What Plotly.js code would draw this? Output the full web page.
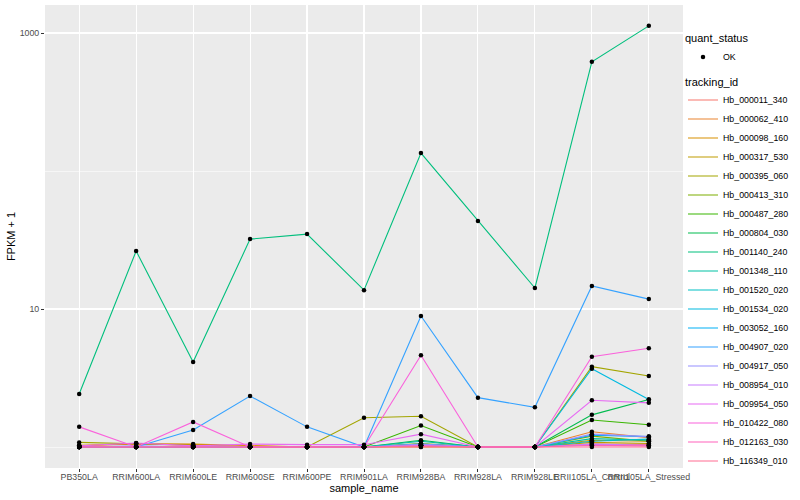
<!DOCTYPE html>
<html>
<head>
<meta charset="utf-8">
<script src="https://cdn.plot.ly/plotly-3.0.1.min.js"></script>
<style>
html,body{margin:0;padding:0;background:#fff;}
#chart{width:800px;height:500px;}
</style>
</head>
<body>
<div id="chart"></div>
<script>
// ---- data ----
const categories = ["PB350LA","RRIM600LA","RRIM600LE","RRIM600SE","RRIM600PE","RRIM901LA","RRIM928BA","RRIM928LA","RRIM928LE","RRII105LA_Control","RRII105LA_Stressed"];
const trackingIds = ["Hb_000011_340","Hb_000062_410","Hb_000098_160","Hb_000317_530","Hb_000395_060","Hb_000413_310","Hb_000487_280","Hb_000804_030","Hb_001140_240","Hb_001348_110","Hb_001520_020","Hb_001534_020","Hb_003052_160","Hb_004907_020","Hb_004917_050","Hb_008954_010","Hb_009954_050","Hb_010422_080","Hb_012163_030","Hb_116349_010"];
const hb_000011_340 = [1.00,1.00,1.02,1.00,1.00,1.00,1.03,1.00,1.00,1.05,1.04];
const hb_000062_410 = [1.02,1.06,1.04,1.00,1.00,1.00,1.05,1.00,1.00,1.29,1.17];
const hb_000098_160 = [1.03,1.05,1.05,1.02,1.00,1.00,1.02,1.00,1.00,1.12,1.10];
const hb_000317_530 = [1.00,1.00,1.00,1.00,1.00,1.00,1.00,1.00,1.00,1.08,1.06];
const hb_000395_060 = [1.08,1.06,1.03,1.00,1.00,1.63,1.67,1.00,1.00,3.82,3.27];
const hb_000413_310 = [1.00,1.00,1.00,1.00,1.00,1.00,1.06,1.00,1.00,1.20,1.10];
const hb_000487_280 = [1.00,1.00,1.00,1.00,1.00,1.00,1.43,1.00,1.00,1.57,1.45];
const hb_000804_030 = [1.00,1.00,1.00,1.00,1.00,1.00,1.12,1.00,1.00,1.71,2.21];
const hb_001140_240 = [2.42,26.3,4.13,32.1,34.9,13.7,135,43.4,14.2,618,1127];
const hb_001348_110 = [1.00,1.00,1.00,1.00,1.00,1.00,1.10,1.00,1.00,1.15,1.12];
const hb_001520_020 = [1.00,1.00,1.00,1.00,1.00,1.00,1.05,1.00,1.00,1.10,1.14];
const hb_001534_020 = [1.00,1.00,1.00,1.00,1.00,1.00,1.04,1.00,1.00,3.69,2.21];
const hb_003052_160 = [1.00,1.00,1.00,1.00,1.00,1.00,1.03,1.00,1.00,1.22,1.19];
const hb_004907_020 = [1.00,1.00,1.33,2.34,1.40,1.00,8.9,2.28,1.94,14.7,11.8];
const hb_004917_050 = [1.00,1.02,1.00,1.00,1.00,1.00,1.05,1.00,1.00,1.24,1.19];
const hb_008954_010 = [1.00,1.00,1.00,1.00,1.00,1.00,1.03,1.00,1.00,1.05,1.03];
const hb_009954_050 = [1.02,1.07,1.02,1.05,1.04,1.04,1.24,1.00,1.00,2.18,2.09];
const hb_010422_080 = [1.40,1.00,1.52,1.00,1.00,1.00,4.62,1.00,1.00,4.51,5.19];
const hb_012163_030 = [1.00,1.00,1.00,1.00,1.00,1.00,1.02,1.00,1.00,1.03,1.02];
const hb_116349_010 = [1.00,1.00,1.00,1.00,1.00,1.00,1.00,1.00,1.00,1.00,1.00];
const yTickVals = [10, 1000];
const yTickText = ["10", "1000"];

const seriesValues = [hb_000011_340,hb_000062_410,hb_000098_160,hb_000317_530,hb_000395_060,hb_000413_310,hb_000487_280,hb_000804_030,hb_001140_240,hb_001348_110,hb_001520_020,hb_001534_020,hb_003052_160,hb_004907_020,hb_004917_050,hb_008954_010,hb_009954_050,hb_010422_080,hb_012163_030,hb_116349_010];

// ---- style ----
const palette = ["#F8766D","#EA8331","#D89000","#C09B00","#A3A500","#7CAE00","#39B600","#00BB4E","#00BF7D","#00C1A3","#00BFC4","#00BAE0","#00B0F6","#35A2FF","#9590FF","#C77CFF","#E76BF3","#FA62DB","#FF62BC","#FF6C91"];
const FONT = "Liberation Sans, Arial, sans-serif";

const traces = [];
trackingIds.forEach((id, i) => {
  traces.push({
    type: "scatter", mode: "lines", name: id,
    x: categories, y: seriesValues[i],
    line: {color: palette[i], width: 1.1},
    legend: "legend2", showlegend: true, hoverinfo: "skip"
  });
});
// points (quant_status = OK)
const allX = [], allY = [];
seriesValues.forEach(vals => vals.forEach((v, j) => { allX.push(categories[j]); allY.push(v); }));
traces.push({
  type: "scatter", mode: "markers", name: "OK",
  x: allX, y: allY,
  marker: {color: "#000000", size: 4.5},
  legend: "legend", showlegend: true
});

const layout = {
  width: 800, height: 500,
  margin: {l: 45, r: 117, t: 5, b: 32, pad: 0},
  paper_bgcolor: "#FFFFFF",
  plot_bgcolor: "#EBEBEB",
  font: {family: FONT, size: 11, color: "#000000"},
  xaxis: {
    type: "category",
    categoryorder: "array", categoryarray: categories,
    range: [-0.6, 10.6],
    showgrid: true, gridcolor: "#FFFFFF", gridwidth: 1.1,
    zeroline: false, showline: false,
    ticks: "outside", ticklen: 3, tickwidth: 1, tickcolor: "#333333",
    tickangle: 0, ticklabelstandoff: -3,
    tickfont: {family: FONT, size: 8.8, color: "#4D4D4D"},
    title: {text: "sample_name", font: {family: FONT, size: 11, color: "#000000"}, standoff: 1}
  },
  yaxis: {
    type: "log",
    range: [-0.152, 3.203],
    tickmode: "array", tickvals: yTickVals, ticktext: yTickText,
    showgrid: true, gridcolor: "#FFFFFF", gridwidth: 1.1,
    minor: {tickmode: "array", tickvals: [1, 100], showgrid: true, gridcolor: "#FFFFFF", gridwidth: 0.55, ticks: ""},
    zeroline: false, showline: false,
    ticks: "outside", ticklen: 3, tickwidth: 1, tickcolor: "#333333",
    tickfont: {family: FONT, size: 8.8, color: "#4D4D4D"},
    title: {text: "FPKM + 1", font: {family: FONT, size: 11, color: "#000000"}, standoff: 1}
  },
  legend: {
    x: 1.0, xanchor: "left", y: 0.95, yanchor: "top",
    bgcolor: "rgba(0,0,0,0)",
    title: {text: "quant_status", font: {family: FONT, size: 11, color: "#000000"}},
    font: {family: FONT, size: 8.8, color: "#000000"}
  },
  legend2: {
    x: 1.0, xanchor: "left", y: 0.857, yanchor: "top",
    bgcolor: "rgba(0,0,0,0)",
    title: {text: "tracking_id", font: {family: FONT, size: 11, color: "#000000"}},
    font: {family: FONT, size: 8.8, color: "#000000"}
  },
  showlegend: true
};

Plotly.newPlot("chart", traces, layout, {displayModeBar: false, staticPlot: true});
</script>
</body>
</html>
